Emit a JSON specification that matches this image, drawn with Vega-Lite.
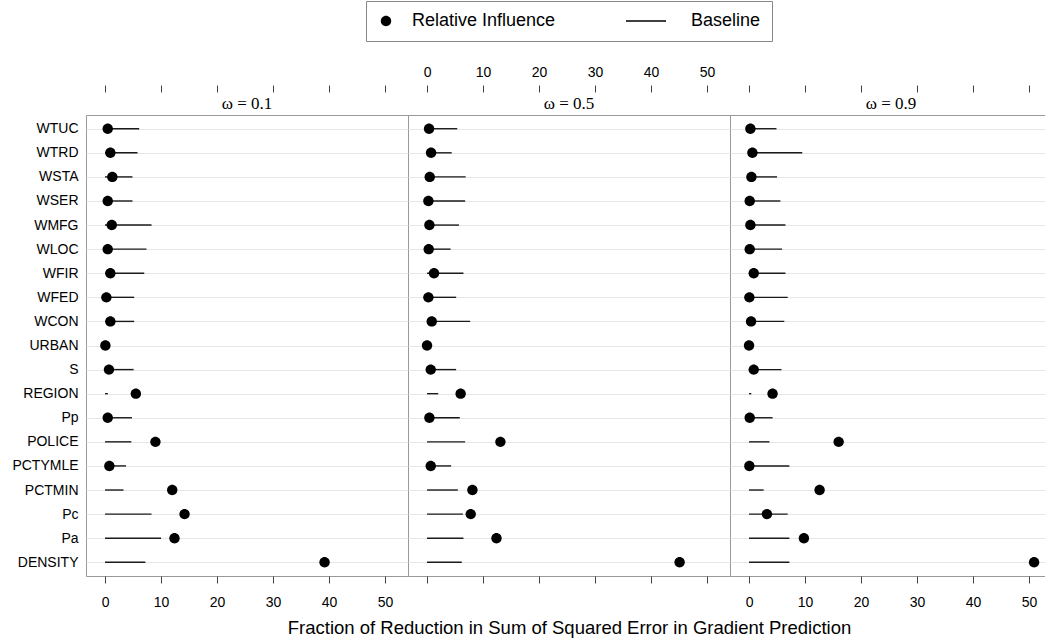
{
  "$schema": "https://vega.github.io/schema/vega-lite/v6.json",
  "padding": {"left": 11, "top": 0, "right": 0, "bottom": 0},
  "background": "white",
  "config": {
    "view": {"stroke": "#999", "strokeWidth": 1},
    "font": "Liberation Sans",
    "axis": {"labelColor": "black", "labelFont": "Liberation Sans", "labelFontSize": 14, "tickColor": "#444", "titleColor": "black", "titleFont": "Liberation Sans", "titleFontWeight": "normal"}
  },
  "datasets": {
    "d": [
      {"omega": "0.1", "var": "WTUC", "ri": 0.48, "b0": 0, "b1": 6.1},
      {"omega": "0.1", "var": "WTRD", "ri": 0.95, "b0": 0, "b1": 5.8},
      {"omega": "0.1", "var": "WSTA", "ri": 1.3, "b0": 0, "b1": 4.9},
      {"omega": "0.1", "var": "WSER", "ri": 0.48, "b0": 0, "b1": 4.9},
      {"omega": "0.1", "var": "WMFG", "ri": 1.2, "b0": 0, "b1": 8.3},
      {"omega": "0.1", "var": "WLOC", "ri": 0.48, "b0": 0, "b1": 7.4},
      {"omega": "0.1", "var": "WFIR", "ri": 0.95, "b0": 0, "b1": 7.0},
      {"omega": "0.1", "var": "WFED", "ri": 0.24, "b0": 0, "b1": 5.2},
      {"omega": "0.1", "var": "WCON", "ri": 0.95, "b0": 0, "b1": 5.2},
      {"omega": "0.1", "var": "URBAN", "ri": 0.06, "b0": 0, "b1": 0.3},
      {"omega": "0.1", "var": "S", "ri": 0.7, "b0": 0, "b1": 5.1},
      {"omega": "0.1", "var": "REGION", "ri": 5.5, "b0": 0, "b1": 0.5},
      {"omega": "0.1", "var": "Pp", "ri": 0.48, "b0": 0, "b1": 4.8},
      {"omega": "0.1", "var": "POLICE", "ri": 9.0, "b0": 0, "b1": 4.7},
      {"omega": "0.1", "var": "PCTYMLE", "ri": 0.77, "b0": 0, "b1": 3.75},
      {"omega": "0.1", "var": "PCTMIN", "ri": 12.0, "b0": 0, "b1": 3.3},
      {"omega": "0.1", "var": "Pc", "ri": 14.2, "b0": 0, "b1": 8.3},
      {"omega": "0.1", "var": "Pa", "ri": 12.4, "b0": 0, "b1": 10.0},
      {"omega": "0.1", "var": "DENSITY", "ri": 39.2, "b0": 0, "b1": 7.2},
      {"omega": "0.5", "var": "WTUC", "ri": 0.36, "b0": 0, "b1": 5.4},
      {"omega": "0.5", "var": "WTRD", "ri": 0.72, "b0": 0, "b1": 4.4},
      {"omega": "0.5", "var": "WSTA", "ri": 0.48, "b0": 0, "b1": 6.9},
      {"omega": "0.5", "var": "WSER", "ri": 0.24, "b0": 0, "b1": 6.8},
      {"omega": "0.5", "var": "WMFG", "ri": 0.42, "b0": 0, "b1": 5.7},
      {"omega": "0.5", "var": "WLOC", "ri": 0.3, "b0": 0, "b1": 4.2},
      {"omega": "0.5", "var": "WFIR", "ri": 1.25, "b0": 0, "b1": 6.5},
      {"omega": "0.5", "var": "WFED", "ri": 0.24, "b0": 0, "b1": 5.2},
      {"omega": "0.5", "var": "WCON", "ri": 0.84, "b0": 0, "b1": 7.7},
      {"omega": "0.5", "var": "URBAN", "ri": 0.0, "b0": 0, "b1": 0.3},
      {"omega": "0.5", "var": "S", "ri": 0.66, "b0": 0, "b1": 5.2},
      {"omega": "0.5", "var": "REGION", "ri": 6.0, "b0": 0, "b1": 2.0},
      {"omega": "0.5", "var": "Pp", "ri": 0.42, "b0": 0, "b1": 5.85},
      {"omega": "0.5", "var": "POLICE", "ri": 13.1, "b0": 0, "b1": 6.8},
      {"omega": "0.5", "var": "PCTYMLE", "ri": 0.66, "b0": 0, "b1": 4.3},
      {"omega": "0.5", "var": "PCTMIN", "ri": 8.1, "b0": 0, "b1": 5.5},
      {"omega": "0.5", "var": "Pc", "ri": 7.8, "b0": 0, "b1": 6.4},
      {"omega": "0.5", "var": "Pa", "ri": 12.4, "b0": 0, "b1": 6.5},
      {"omega": "0.5", "var": "DENSITY", "ri": 45.1, "b0": 0, "b1": 6.2},
      {"omega": "0.9", "var": "WTUC", "ri": 0.24, "b0": 0, "b1": 4.9},
      {"omega": "0.9", "var": "WTRD", "ri": 0.6, "b0": 0, "b1": 9.5},
      {"omega": "0.9", "var": "WSTA", "ri": 0.42, "b0": 0, "b1": 5.0},
      {"omega": "0.9", "var": "WSER", "ri": 0.12, "b0": 0, "b1": 5.6},
      {"omega": "0.9", "var": "WMFG", "ri": 0.24, "b0": 0, "b1": 6.5},
      {"omega": "0.9", "var": "WLOC", "ri": 0.12, "b0": 0, "b1": 5.9},
      {"omega": "0.9", "var": "WFIR", "ri": 0.84, "b0": 0, "b1": 6.5},
      {"omega": "0.9", "var": "WFED", "ri": 0.06, "b0": 0, "b1": 6.9},
      {"omega": "0.9", "var": "WCON", "ri": 0.36, "b0": 0, "b1": 6.3},
      {"omega": "0.9", "var": "URBAN", "ri": 0.0, "b0": 0, "b1": 0.3},
      {"omega": "0.9", "var": "S", "ri": 0.84, "b0": 0, "b1": 5.8},
      {"omega": "0.9", "var": "REGION", "ri": 4.2, "b0": 0, "b1": 0.4},
      {"omega": "0.9", "var": "Pp", "ri": 0.12, "b0": 0, "b1": 4.2},
      {"omega": "0.9", "var": "POLICE", "ri": 16.0, "b0": 0, "b1": 3.65},
      {"omega": "0.9", "var": "PCTYMLE", "ri": 0.06, "b0": 0, "b1": 7.2},
      {"omega": "0.9", "var": "PCTMIN", "ri": 12.6, "b0": 0, "b1": 2.6},
      {"omega": "0.9", "var": "Pc", "ri": 3.2, "b0": 0, "b1": 6.9},
      {"omega": "0.9", "var": "Pa", "ri": 9.8, "b0": 0, "b1": 7.2},
      {"omega": "0.9", "var": "DENSITY", "ri": 50.9, "b0": 0, "b1": 7.2}
    ]
  },
  "columns": 3,
  "spacing": 0,
  "bounds": "flush",
  "align": "each",
  "concat": [
    {
      "width": 322, "height": 23,
      "data": {"values": [{"t": "ω = 0.1"}]},
      "mark": {"type": "text", "font": "Liberation Serif", "fontSize": 17, "color": "black"},
      "encoding": {"text": {"field": "t"}}
    },
    {
      "width": 322, "height": 23,
      "data": {"values": [{"t": "ω = 0.5"}]},
      "mark": {"type": "text", "font": "Liberation Serif", "fontSize": 17, "color": "black"},
      "encoding": {"text": {"field": "t"}}
    },
    {
      "width": 315, "height": 23,
      "data": {"values": [{"t": "ω = 0.9"}]},
      "mark": {"type": "text", "font": "Liberation Serif", "fontSize": 17, "color": "black", "dx": 3.5},
      "encoding": {"text": {"field": "t"}}
    },
    {
      "width": 322, "height": 461,
      "data": {"name": "d"},
      "transform": [{"filter": "datum.omega == '0.1'"}],
      "layer": [
        {
          "mark": {"type": "rule", "color": "#1a1a1a", "strokeWidth": 1.4},
          "encoding": {
            "x": {"field": "b0", "type": "quantitative", "scale": {"domain": [-3.4, 54.1], "nice": false, "zero": false},
                  "axis": {"orient": "bottom", "values": [0, 10, 20, 30, 40, 50], "tickSize": 7, "labelPadding": 12, "domain": false, "grid": false, "title": null, "labels": true}},
            "x2": {"field": "b1"},
            "y": {"field": "var", "type": "nominal", "sort": ["WTUC","WTRD","WSTA","WSER","WMFG","WLOC","WFIR","WFED","WCON","URBAN","S","REGION","Pp","POLICE","PCTYMLE","PCTMIN","Pc","Pa","DENSITY"],
                  "scale": {"type": "point", "padding": 0.57},
                  "axis": {"ticks": false, "tickSize": 0, "domain": false, "grid": true, "gridColor": "#e6e6e6", "labelPadding": 8, "title": null}}
          }
        },
        {
          "mark": {"type": "point", "filled": true, "color": "black", "opacity": 1, "size": 256},
          "encoding": {
            "x": {"field": "ri", "type": "quantitative", "scale": {"domain": [-3.4, 54.1], "nice": false, "zero": false},
                  "axis": {"orient": "top", "offset": 23, "values": [0, 10, 20, 30, 40, 50], "tickSize": 7, "labelPadding": 6, "domain": false, "grid": false, "title": null, "labels": false}},
            "y": {"field": "var", "type": "nominal", "sort": ["WTUC","WTRD","WSTA","WSER","WMFG","WLOC","WFIR","WFED","WCON","URBAN","S","REGION","Pp","POLICE","PCTYMLE","PCTMIN","Pc","Pa","DENSITY"],
                  "axis": {"ticks": false, "tickSize": 0, "domain": false, "grid": true, "gridColor": "#e6e6e6", "labelPadding": 8, "title": null}},
            "shape": {
              "datum": "Relative Influence", "type": "nominal",
              "scale": {"domain": ["Relative Influence", "Baseline"], "range": ["M-0.65,0A0.65,0.65,0,1,0,0.65,0A0.65,0.65,0,1,0,-0.65,0Z", "M-4.875,-0.09L0.125,-0.09L0.125,0.09L-4.875,0.09Z"]},
              "legend": {
                "orient": "none", "legendX": 280, "legendY": -91, "direction": "horizontal", "title": null,
                "strokeColor": "#888", "fillColor": "white", "padding": 11,
                "labelFontSize": 18, "labelFont": "Liberation Sans", "labelColor": "black", "labelLimit": 300,
                "symbolSize": 256, "symbolFillColor": "black", "symbolStrokeColor": "black", "symbolStrokeWidth": 1, "symbolOpacity": 1,
                "labelOffset": 17, "columnPadding": 68,
                "encode": {"symbols": {"update": {"fill": {"value": "black"}, "opacity": {"value": 1}}}}
              }
            }
          }
        }
      ]
    },
    {
      "width": 322, "height": 461,
      "data": {"name": "d"},
      "transform": [{"filter": "datum.omega == '0.5'"}],
      "layer": [
        {
          "mark": {"type": "rule", "color": "#1a1a1a", "strokeWidth": 1.4},
          "encoding": {
            "x": {"field": "b0", "type": "quantitative", "scale": {"domain": [-3.4, 54.1], "nice": false, "zero": false},
                  "axis": {"orient": "bottom", "values": [0, 10, 20, 30, 40, 50], "tickSize": 7, "labelPadding": 12, "domain": false, "grid": false, "labels": false,
                           "title": "Fraction of Reduction in Sum of Squared Error in Gradient Prediction", "titleFontSize": 18.5, "titlePadding": 35}},
            "x2": {"field": "b1"},
            "y": {"field": "var", "type": "nominal", "sort": ["WTUC","WTRD","WSTA","WSER","WMFG","WLOC","WFIR","WFED","WCON","URBAN","S","REGION","Pp","POLICE","PCTYMLE","PCTMIN","Pc","Pa","DENSITY"],
                  "scale": {"type": "point", "padding": 0.57},
                  "axis": {"ticks": false, "tickSize": 0, "domain": false, "grid": true, "gridColor": "#e6e6e6", "labels": false, "title": null}}
          }
        },
        {
          "mark": {"type": "point", "filled": true, "color": "black", "opacity": 1, "size": 256, "shape": "M-0.65,0A0.65,0.65,0,1,0,0.65,0A0.65,0.65,0,1,0,-0.65,0Z"},
          "encoding": {
            "x": {"field": "ri", "type": "quantitative", "scale": {"domain": [-3.4, 54.1], "nice": false, "zero": false},
                  "axis": {"orient": "top", "offset": 23, "values": [0, 10, 20, 30, 40, 50], "tickSize": 7, "labelPadding": 6, "domain": false, "grid": false, "title": null, "labels": true}},
            "y": {"field": "var", "type": "nominal", "sort": ["WTUC","WTRD","WSTA","WSER","WMFG","WLOC","WFIR","WFED","WCON","URBAN","S","REGION","Pp","POLICE","PCTYMLE","PCTMIN","Pc","Pa","DENSITY"],
                  "axis": {"ticks": false, "tickSize": 0, "domain": false, "grid": true, "gridColor": "#e6e6e6", "labels": false, "title": null}}
          }
        }
      ]
    },
    {
      "width": 315, "height": 461,
      "data": {"name": "d"},
      "transform": [{"filter": "datum.omega == '0.9'"}],
      "layer": [
        {
          "mark": {"type": "rule", "color": "#1a1a1a", "strokeWidth": 1.4},
          "encoding": {
            "x": {"field": "b0", "type": "quantitative", "scale": {"domain": [-3.4, 52.85], "nice": false, "zero": false},
                  "axis": {"orient": "bottom", "values": [0, 10, 20, 30, 40, 50], "tickSize": 7, "labelPadding": 12, "domain": false, "grid": false, "title": null, "labels": true}},
            "x2": {"field": "b1"},
            "y": {"field": "var", "type": "nominal", "sort": ["WTUC","WTRD","WSTA","WSER","WMFG","WLOC","WFIR","WFED","WCON","URBAN","S","REGION","Pp","POLICE","PCTYMLE","PCTMIN","Pc","Pa","DENSITY"],
                  "scale": {"type": "point", "padding": 0.57},
                  "axis": {"ticks": false, "tickSize": 0, "domain": false, "grid": true, "gridColor": "#e6e6e6", "labels": false, "title": null}}
          }
        },
        {
          "mark": {"type": "point", "filled": true, "color": "black", "opacity": 1, "size": 256, "shape": "M-0.65,0A0.65,0.65,0,1,0,0.65,0A0.65,0.65,0,1,0,-0.65,0Z"},
          "encoding": {
            "x": {"field": "ri", "type": "quantitative", "scale": {"domain": [-3.4, 52.85], "nice": false, "zero": false},
                  "axis": {"orient": "top", "offset": 23, "values": [0, 10, 20, 30, 40, 50], "tickSize": 7, "labelPadding": 6, "domain": false, "grid": false, "title": null, "labels": false}},
            "y": {"field": "var", "type": "nominal", "sort": ["WTUC","WTRD","WSTA","WSER","WMFG","WLOC","WFIR","WFED","WCON","URBAN","S","REGION","Pp","POLICE","PCTYMLE","PCTMIN","Pc","Pa","DENSITY"],
                  "axis": {"ticks": false, "tickSize": 0, "domain": false, "grid": true, "gridColor": "#e6e6e6", "labels": false, "title": null}}
          }
        }
      ]
    }
  ]
}
